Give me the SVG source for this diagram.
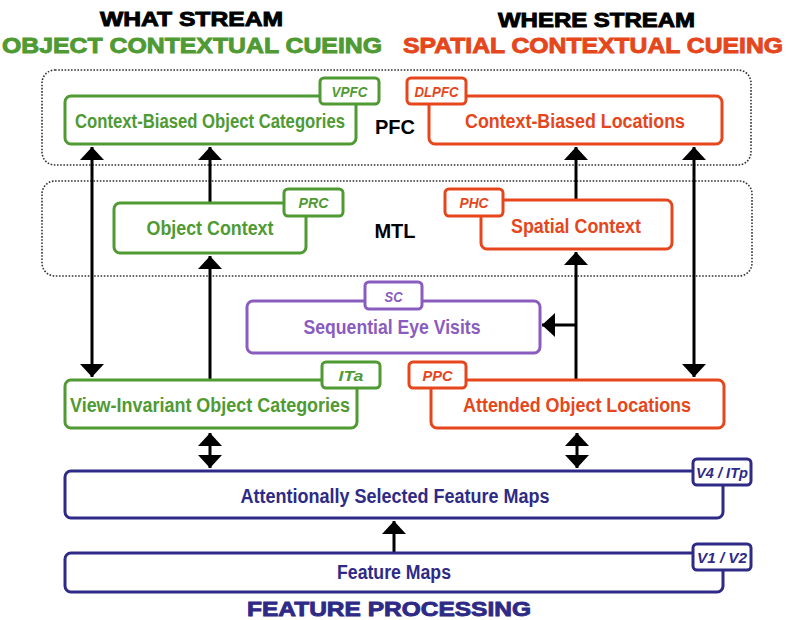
<svg xmlns="http://www.w3.org/2000/svg" width="787" height="620" viewBox="0 0 787 620">
<style>
.hd{font-family:"Liberation Sans",Arial,sans-serif;font-weight:bold;text-anchor:middle;stroke-width:0.9}
.box{fill:#fff;stroke-width:3}
.tag{fill:#fff;stroke-width:3}
.lbl{font-family:"Liberation Sans",Arial,sans-serif;font-weight:bold;font-size:20px;text-anchor:middle}
.tt{font-family:"Liberation Sans",Arial,sans-serif;font-weight:bold;font-style:italic;font-size:15px;text-anchor:middle}
.g{stroke:#4f9a32}.gt{fill:#4f9a32}
.r{stroke:#e5461c}.rt{fill:#e5461c}
.p{stroke:#8a5cbf}.pt{fill:#8a5cbf}
.n{stroke:#2e2a86}.nt{fill:#2e2a86}
.reg{fill:none;stroke:#333;stroke-width:1.6;stroke-dasharray:1.6 1.6}
.ln{stroke:#000;stroke-width:3;fill:none}
</style>
<defs>
<marker id="ah" viewBox="0 0 13 24" refX="13" refY="12" markerWidth="13" markerHeight="24" markerUnits="userSpaceOnUse" orient="auto-start-reverse">
<path d="M0,0 L13,12 L0,24 z" fill="#000"/>
</marker>
</defs>
<rect width="787" height="620" fill="#fff"/>

<g id="headings">
<text class="hd" x="191.5" y="26" font-size="20" fill="#000" stroke="#000" textLength="183" lengthAdjust="spacingAndGlyphs">WHAT STREAM</text>
<text class="hd" x="192" y="53" font-size="22" fill="#4f9a32" stroke="#4f9a32" textLength="380" lengthAdjust="spacingAndGlyphs">OBJECT CONTEXTUAL CUEING</text>
<text class="hd" x="596.5" y="27" font-size="20" fill="#000" stroke="#000" textLength="197" lengthAdjust="spacingAndGlyphs">WHERE STREAM</text>
<text class="hd" x="593" y="53" font-size="22" fill="#e5461c" stroke="#e5461c" textLength="380" lengthAdjust="spacingAndGlyphs">SPATIAL CONTEXTUAL CUEING</text>
<text class="hd" x="389" y="616" font-size="21" fill="#2e2a86" stroke="#2e2a86" textLength="284" lengthAdjust="spacingAndGlyphs">FEATURE PROCESSING</text>
</g>

<g id="regions">
<rect class="reg" x="42" y="70" width="709" height="95" rx="13"/>
<rect class="reg" x="42" y="181" width="710" height="95" rx="13"/>
<text class="lbl" x="395" y="134" fill="#000">PFC</text>
<text class="lbl" x="395" y="238" fill="#000">MTL</text>
</g>

<g id="connectors">
<line class="ln" x1="92" y1="147" x2="92" y2="377" marker-start="url(#ah)" marker-end="url(#ah)"/>
<line class="ln" x1="210" y1="380" x2="210" y2="256" marker-end="url(#ah)"/>
<line class="ln" x1="210" y1="203" x2="210" y2="147" marker-end="url(#ah)"/>
<line class="ln" x1="576" y1="380" x2="576" y2="252" marker-end="url(#ah)"/>
<line class="ln" x1="576" y1="200" x2="576" y2="147" marker-end="url(#ah)"/>
<line class="ln" x1="694" y1="147" x2="694" y2="377" marker-start="url(#ah)" marker-end="url(#ah)"/>
<line class="ln" x1="576" y1="325" x2="542" y2="325" marker-end="url(#ah)"/>
<line class="ln" x1="210" y1="433" x2="210" y2="468" marker-start="url(#ah)" marker-end="url(#ah)"/>
<line class="ln" x1="577" y1="433" x2="577" y2="468" marker-start="url(#ah)" marker-end="url(#ah)"/>
<line class="ln" x1="394" y1="553" x2="394" y2="521" marker-end="url(#ah)"/>
</g>

<g id="node-cboc">
<rect class="box g" x="65" y="96" width="291" height="48" rx="6"/>
<rect class="tag g" x="320" y="78" width="59" height="26" rx="4"/>
<text class="tt gt" x="349.5" y="97" textLength="36" lengthAdjust="spacingAndGlyphs">VPFC</text>
<text class="lbl gt" x="210" y="128" style="font-size:17px" transform="translate(0,128) scale(1,1.18) translate(0,-128)" textLength="270" lengthAdjust="spacingAndGlyphs">Context-Biased Object Categories</text>
</g>

<g id="node-cbl">
<rect class="box r" x="429" y="96" width="293" height="48" rx="6"/>
<rect class="tag r" x="407" y="78" width="59" height="26" rx="4"/>
<text class="tt rt" x="436.5" y="97" textLength="44" lengthAdjust="spacingAndGlyphs">DLPFC</text>
<text class="lbl rt" x="575" y="128" textLength="220" lengthAdjust="spacingAndGlyphs">Context-Biased Locations</text>
</g>

<g id="node-oc">
<rect class="box g" x="114" y="203" width="192" height="50" rx="6"/>
<rect class="tag g" x="284" y="189" width="59" height="27" rx="4"/>
<text class="tt gt" x="313.5" y="208" textLength="30" lengthAdjust="spacingAndGlyphs">PRC</text>
<text class="lbl gt" x="210" y="235" textLength="127" lengthAdjust="spacingAndGlyphs">Object Context</text>
</g>

<g id="node-spc">
<rect class="box r" x="481" y="200" width="191" height="49" rx="6"/>
<rect class="tag r" x="445" y="189" width="58" height="27" rx="4"/>
<text class="tt rt" x="474" y="208" textLength="29" lengthAdjust="spacingAndGlyphs">PHC</text>
<text class="lbl rt" x="576" y="233" textLength="130" lengthAdjust="spacingAndGlyphs">Spatial Context</text>
</g>

<g id="node-sev">
<rect class="box p" x="247" y="301" width="293" height="52" rx="6"/>
<rect class="tag p" x="365" y="282" width="57" height="27" rx="4"/>
<text class="tt pt" x="393.5" y="302" textLength="18" lengthAdjust="spacingAndGlyphs">SC</text>
<text class="lbl pt" x="392" y="334" textLength="177" lengthAdjust="spacingAndGlyphs">Sequential Eye Visits</text>
</g>

<g id="node-vioc">
<rect class="box g" x="65" y="380" width="292" height="48" rx="6"/>
<rect class="tag g" x="322" y="362" width="58" height="26" rx="4"/>
<text class="tt gt" x="351" y="381" textLength="25" lengthAdjust="spacingAndGlyphs">ITa</text>
<text class="lbl gt" x="210" y="412" textLength="280" lengthAdjust="spacingAndGlyphs">View-Invariant Object Categories</text>
</g>

<g id="node-aol">
<rect class="box r" x="431" y="380" width="293" height="48" rx="6"/>
<rect class="tag r" x="409" y="362" width="57" height="26" rx="4"/>
<text class="tt rt" x="437.5" y="381" textLength="30" lengthAdjust="spacingAndGlyphs">PPC</text>
<text class="lbl rt" x="577" y="412" textLength="228" lengthAdjust="spacingAndGlyphs">Attended Object Locations</text>
</g>

<g id="node-asfm">
<rect class="box n" x="65" y="471" width="658" height="47" rx="6"/>
<rect class="tag n" x="693" y="459" width="58" height="26" rx="4"/>
<text class="tt nt" x="722" y="478" textLength="52" lengthAdjust="spacingAndGlyphs">V4 / ITp</text>
<text class="lbl nt" x="395" y="503" textLength="309" lengthAdjust="spacingAndGlyphs">Attentionally Selected Feature Maps</text>
</g>

<g id="node-fm">
<rect class="box n" x="65" y="553" width="658" height="39" rx="6"/>
<rect class="tag n" x="693" y="544" width="58" height="26" rx="4"/>
<text class="tt nt" x="722" y="563" textLength="50" lengthAdjust="spacingAndGlyphs">V1 / V2</text>
<text class="lbl nt" x="394" y="579" textLength="114" lengthAdjust="spacingAndGlyphs">Feature Maps</text>
</g>
</svg>
